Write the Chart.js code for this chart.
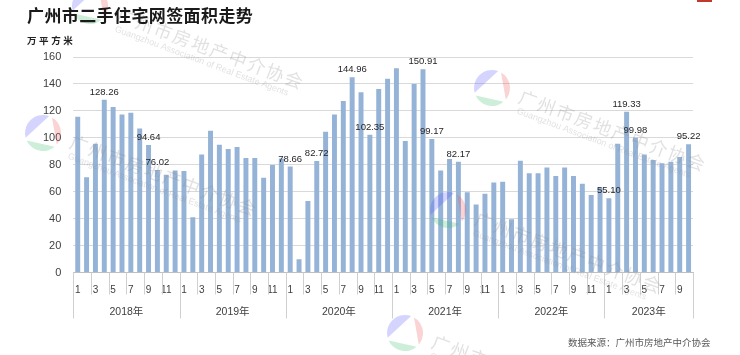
<!DOCTYPE html>
<html><head><meta charset="utf-8">
<script src="https://cdn.jsdelivr.net/npm/chart.js@4"></script>
<style>
body{margin:0;background:#fff;}
#wrap{position:relative;width:740px;height:355px;overflow:hidden;background:#fff;}
#c{position:absolute;left:0;top:0;}
.title{position:absolute;left:27px;top:6px;font:bold 17px "Noto Sans CJK SC";line-height:18px;letter-spacing:0.4px;color:#1a1a1a;white-space:nowrap;}
.unit{position:absolute;left:27px;top:35px;font:bold 9.5px "Noto Sans CJK SC";line-height:11px;letter-spacing:2.6px;color:#222;white-space:nowrap;}
.src{position:absolute;left:568px;top:336px;font:9.5px "Noto Sans CJK SC";line-height:12px;color:#595959;white-space:nowrap;}
.redmark{position:absolute;left:697px;top:0;width:15px;height:2px;background:#c0392b;}
</style></head>
<body>
<div id="wrap">
<canvas id="c" width="740" height="355"></canvas>
<div class="title">广州市二手住宅网签面积走势</div>
<div class="unit">万平方米</div>
<div class="src">数据来源：广州市房地产中介协会</div>
<div class="redmark"></div>
</div>
<script>
// ---- data ----
const years = ['2018年','2019年','2020年','2021年','2022年','2023年'];
const monthsPerYear = [12,12,12,12,12,10];
const monthNames = ['1','2','3','4','5','6','7','8','9','10','11','12'];
const values2018 = [115.7, 70.8, 95.6, 128.26, 122.9, 117.4, 118.7, 107.0, 94.64, 76.02, 72.6, 75.8];
const values2019 = [75.3, 41.1, 87.7, 105.3, 94.9, 91.7, 93.1, 85.0, 85.0, 70.3, 79.8, 84.7];
const values2020 = [78.66, 9.9, 53.0, 82.72, 104.5, 117.4, 127.3, 144.96, 133.8, 102.35, 136.2, 143.9];
const values2021 = [151.6, 97.6, 140.0, 150.91, 99.17, 75.8, 84.2, 82.17, 59.5, 50.5, 58.5, 66.9];
const values2022 = [67.4, 39.6, 83.0, 73.6, 73.6, 78.0, 71.6, 78.0, 71.6, 65.9, 57.5, 63.2];
const values2023 = [55.10, 95.6, 119.33, 99.98, 87.7, 83.5, 81.2, 82.2, 85.7, 95.22];
const yTicks = [0,20,40,60,80,100,120,140,160];
// bars carrying value labels (year index, month)
const labeledBars = [[0,4],[0,9],[0,10],[2,1],[2,4],[2,8],[2,10],[3,4],[3,5],[3,8],[5,1],[5,3],[5,4],[5,10]];
const watermarkCn = '广州市房地产中介协会';
const watermarkEn = 'Guangzhou Association of Real Estate Agents';

// ---- build ----
const yearValues = [values2018, values2019, values2020, values2021, values2022, values2023];
const categories = [];
const values = [];
const yearStart = [];
yearValues.forEach((arr, yi) => {
  yearStart.push(categories.length);
  for (let m = 0; m < monthsPerYear[yi]; m++) {
    categories.push(monthNames[m]);
    values.push(arr[m]);
  }
});
const labeledIdx = labeledBars.map(([yi, m]) => yearStart[yi] + m - 1);

const valueLabels = {
  id: 'valueLabels',
  afterDatasetsDraw(chart) {
    const ctx = chart.ctx;
    const meta = chart.getDatasetMeta(0);
    ctx.save();
    ctx.font = '9.5px "Liberation Sans", Arial, sans-serif';
    ctx.fillStyle = '#262626';
    ctx.textAlign = 'center';
    ctx.textBaseline = 'alphabetic';
    labeledIdx.forEach(i => {
      const el = meta.data[i];
      ctx.fillText(values[i].toFixed(2), el.x, el.y - 5);
    });
    ctx.restore();
  }
};

const yearAxis = {
  id: 'yearAxis',
  afterDraw(chart) {
    const ctx = chart.ctx;
    const xs = chart.scales.x;
    const step = xs.getPixelForValue(1) - xs.getPixelForValue(0);
    const edge = i => xs.getPixelForValue(0) + (i - 0.5) * step;
    const base = chart.chartArea.bottom;
    ctx.save();
    ctx.strokeStyle = '#d0d0d0';
    ctx.lineWidth = 1;
    ctx.beginPath();
    years.forEach((y, yi) => {
      const s = yearStart[yi], n = monthsPerYear[yi];
      const xl = Math.round(edge(s)) + 0.5;
      ctx.moveTo(xl, base); ctx.lineTo(xl, base + 46);
      for (let k = 2; k < n; k += 2) {
        const xk = Math.round(edge(s + k)) + 0.5;
        ctx.moveTo(xk, base); ctx.lineTo(xk, base + 22);
      }
    });
    const xe = Math.round(edge(categories.length)) + 0.5;
    ctx.moveTo(xe, base); ctx.lineTo(xe, base + 46);
    ctx.stroke();
    ctx.font = '10.5px "Liberation Sans", Arial, "Noto Sans CJK SC", sans-serif';
    ctx.fillStyle = '#404040';
    ctx.textAlign = 'center';
    ctx.textBaseline = 'middle';
    years.forEach((y, yi) => {
      const s = yearStart[yi], n = monthsPerYear[yi];
      ctx.fillText(y, (edge(s) + edge(s + n)) / 2, base + 40);
    });
    ctx.restore();
  }
};

function drawMark(ctx, cx, cy) {
  const r = 18;
  const segs = [[165, 290, 'rgba(90,90,255,0.26)'], [300, 40, 'rgba(235,90,90,0.26)'], [50, 155, 'rgba(60,190,110,0.26)']];
  segs.forEach(([a0, a1, c]) => {
    let b = a1 * Math.PI / 180; const a = a0 * Math.PI / 180;
    if (b < a) b += 2 * Math.PI;
    ctx.beginPath();
    ctx.arc(cx, cy, r, a, b);
    ctx.closePath();
    ctx.fillStyle = c;
    ctx.fill();
  });
  ctx.save();
  ctx.translate(cx + 36, cy + 11);
  ctx.rotate(20.5 * Math.PI / 180);
  ctx.fillStyle = 'rgba(140,140,140,0.26)';
  ctx.textBaseline = 'middle';
  ctx.textAlign = 'center';
  ctx.font = '18px "Noto Sans CJK SC"';
  [...watermarkCn].forEach((ch, i) => ctx.fillText(ch, i * 19.9, 0));
  ctx.textAlign = 'left';
  ctx.font = '9px "Liberation Sans", Arial, sans-serif';
  ctx.fillText(watermarkEn, -6, 15);
  ctx.restore();
}
const watermark = {
  id: 'watermark',
  afterDraw(chart) {
    const ctx = chart.ctx;
    [[90, 6], [43, 133], [492, 88], [448, 210], [405, 333]].forEach(([x, y]) => drawMark(ctx, x, y));
  }
};

new Chart(document.getElementById('c'), {
  type: 'bar',
  data: {
    labels: categories,
    datasets: [{
      data: values,
      backgroundColor: '#95B3D7',
      barPercentage: 0.56,
      categoryPercentage: 1
    }]
  },
  options: {
    responsive: false,
    animation: false,
    events: [],
    layout: { padding: { left: 0, right: 47, top: 57, bottom: 0 } },
    plugins: { legend: { display: false }, tooltip: { enabled: false }, title: { display: false } },
    scales: {
      x: {
        grid: { display: false },
        border: { display: true, color: '#bfbfbf' },
        ticks: {
          autoSkip: false, maxRotation: 0, minRotation: 0, padding: 4,
          font: { size: 10, family: '"Liberation Sans", Arial, sans-serif' }, color: '#404040',
          callback: (v, i) => (parseInt(categories[i]) % 2 === 1 ? categories[i] : '')
        },
        afterFit: s => { s.height = 82.5; }
      },
      y: {
        min: 0, max: 160,
        afterBuildTicks: s => { s.ticks = yTicks.map(v => ({ value: v })); },
        grid: { color: '#d9d9d9', drawTicks: false },
        border: { display: false },
        ticks: { padding: 12, font: { size: 11, family: '"Liberation Sans", Arial, sans-serif' }, color: '#404040' },
        afterFit: s => { s.width = 73.3; }
      }
    }
  },
  plugins: [valueLabels, yearAxis, watermark]
});
</script>
</body></html>
